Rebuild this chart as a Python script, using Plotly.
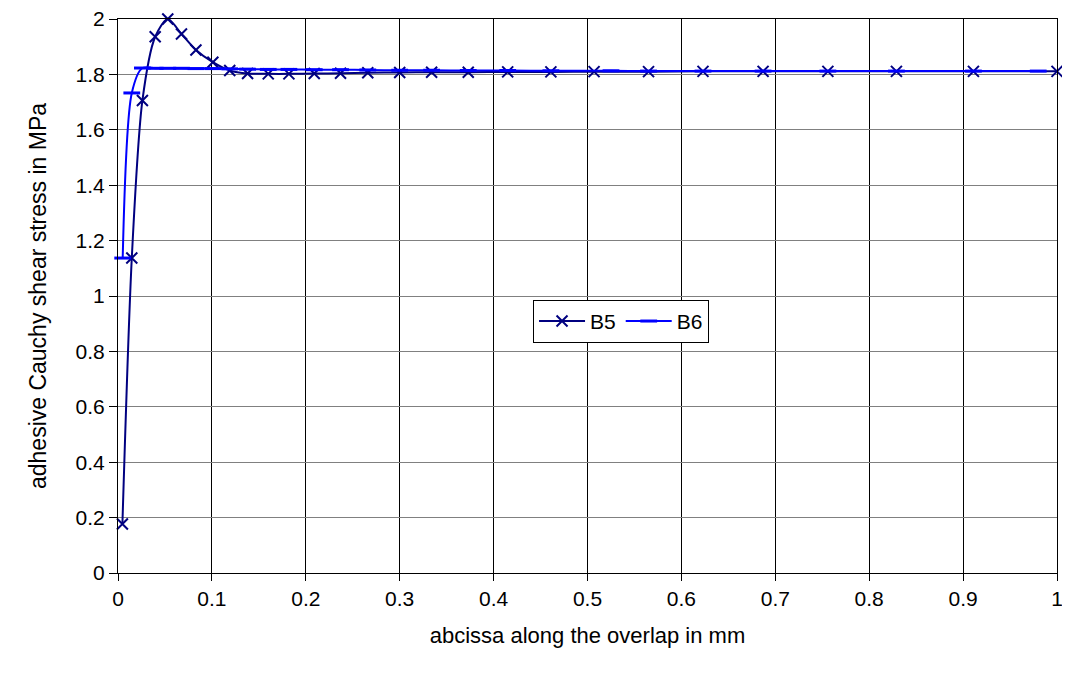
import plotly.graph_objects as go

b5_x = [0.0047, 0.0147, 0.026, 0.0396, 0.053, 0.0676, 0.083, 0.101, 0.119, 0.138,
        0.16, 0.182, 0.209, 0.237, 0.266, 0.3, 0.334, 0.373, 0.415, 0.461, 0.507,
        0.565, 0.623, 0.687, 0.756, 0.829, 0.911, 1.0]
b5_y = [0.177, 1.137, 1.706, 1.936, 2.0, 1.946, 1.888, 1.844, 1.814, 1.803,
        1.802, 1.802, 1.803, 1.804, 1.806, 1.807, 1.808, 1.808, 1.809, 1.809, 1.810,
        1.810, 1.811, 1.811, 1.811, 1.811, 1.811, 1.811]

b6_x = [0.005, 0.0147, 0.026, 0.0396, 0.053, 0.0676, 0.083, 0.101, 0.119, 0.138,
        0.16, 0.182, 0.209, 0.237, 0.266, 0.3, 0.334, 0.373, 0.415, 0.461, 0.525,
        0.565, 0.623, 0.687, 0.756, 0.829, 0.911, 0.98]
b6_y = [1.137, 1.733, 1.823, 1.822, 1.822, 1.822, 1.821, 1.821, 1.820, 1.819,
        1.818, 1.818, 1.817, 1.817, 1.816, 1.815, 1.815, 1.814, 1.814, 1.813, 1.813,
        1.812, 1.812, 1.812, 1.812, 1.812, 1.812, 1.812]

x_ticks = [0, 0.1, 0.2, 0.3, 0.4, 0.5, 0.6, 0.7, 0.8, 0.9, 1]
x_tick_labels = ["0", "0.1", "0.2", "0.3", "0.4", "0.5", "0.6", "0.7", "0.8", "0.9", "1"]
y_ticks = [0, 0.2, 0.4, 0.6, 0.8, 1, 1.2, 1.4, 1.6, 1.8, 2]
y_tick_labels = ["0", "0.2", "0.4", "0.6", "0.8", "1", "1.2", "1.4", "1.6", "1.8", "2"]

fig = go.Figure()
fig.add_trace(go.Scatter(
    x=b5_x, y=b5_y, name="B5", mode="lines+markers",
    line=dict(color="#000080", width=2, shape="spline", smoothing=0.8),
    marker=dict(symbol="x-thin", size=11, line=dict(color="#000080", width=2), color="#000080"),
    cliponaxis=False,
))
fig.add_trace(go.Scatter(
    x=b6_x, y=b6_y, name="B6", mode="lines+markers",
    line=dict(color="#0000FF", width=2, shape="spline", smoothing=0.8),
    marker=dict(symbol="line-ew", size=12, line=dict(color="#0000FF", width=3), color="#0000FF"),
    cliponaxis=False,
))

font = "Liberation Sans, Arial, sans-serif"
fig.update_layout(
    width=1062, height=657,
    paper_bgcolor="white", plot_bgcolor="white",
    margin=dict(l=110, r=13, t=11, b=92, autoexpand=False),
    font=dict(family=font, size=21, color="black"),
    showlegend=True,
    legend=dict(
        orientation="h", x=0.442, y=0.493, xanchor="left", yanchor="top",
        bordercolor="black", borderwidth=1, bgcolor="white",
        font=dict(size=21), itemwidth=46, tracegroupgap=0,
    ),
    xaxis=dict(
        range=[0, 1], tickvals=x_ticks, ticktext=x_tick_labels,
        showgrid=True, gridcolor="black", gridwidth=1,
        showline=True, linecolor="black", linewidth=1, mirror=True,
        ticks="outside", ticklen=7, tickcolor="black", zeroline=False,
        tickfont=dict(size=21), ticklabeloverflow="allow",
        title=dict(text="abcissa along the overlap in mm", standoff=18, font=dict(size=22)),
    ),
    yaxis=dict(
        range=[0, 2], tickvals=y_ticks, ticktext=y_tick_labels,
        showgrid=True, gridcolor="#808080", gridwidth=1,
        showline=True, linecolor="black", linewidth=1, mirror=True,
        ticks="outside", ticklen=8, tickcolor="black", zeroline=False,
        tickfont=dict(size=21), ticklabeloverflow="allow",
        title=dict(text="adhesive Cauchy shear stress in MPa", standoff=22, font=dict(size=23)),
    ),
)

fig.write_html("out.html")
